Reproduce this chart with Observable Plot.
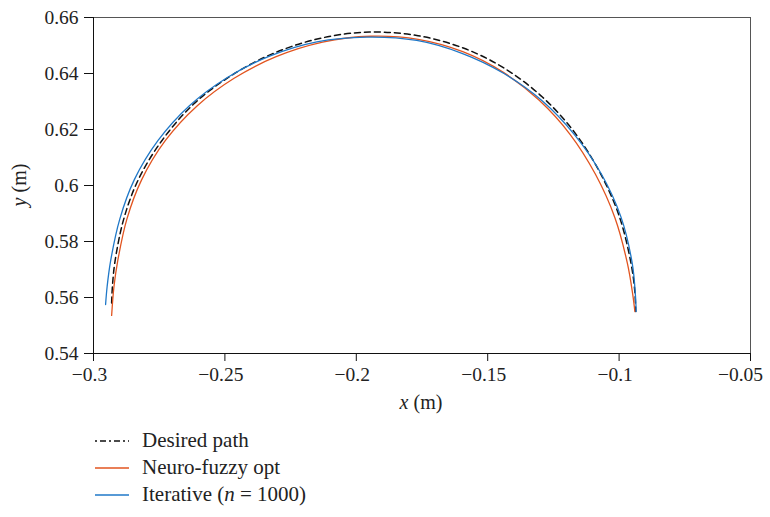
<!DOCTYPE html>
<html><head><meta charset="utf-8">
<script src="https://cdn.jsdelivr.net/npm/d3@7"></script>
<script src="https://cdn.jsdelivr.net/npm/@observablehq/plot@0.6"></script>
<style>
body{margin:0;background:#fff;font-family:"Liberation Serif",serif;}
#wrap{position:relative;width:770px;height:517px;overflow:hidden}
#legend{position:absolute;left:95px;top:427px;font-size:21px;color:#222}
.row{display:flex;align-items:center;height:27px}
.row svg{margin-right:13px}
</style></head><body><div id="wrap"><div id="chart"></div><div id="legend"></div></div>
<script>
// Desired path (x, y in metres)
const desiredX = [-0.2931,-0.2928,-0.2918,-0.2885,-0.2830,-0.2740,-0.2620,-0.2480,-0.2320,-0.2140,-0.1950,-0.1765,-0.1590,-0.1432,-0.1292,-0.1172,-0.1075,-0.1000,-0.0955,-0.0940,-0.0937];
const desiredY = [0.5580,0.5640,0.5730,0.5880,0.6020,0.6160,0.6290,0.6390,0.6470,0.6525,0.6548,0.6535,0.6490,0.6416,0.6316,0.6193,0.6050,0.5892,0.5724,0.5620,0.5550];
// Neuro-fuzzy opt
const fuzzyX = [-0.2931,-0.2922,-0.2908,-0.2873,-0.2817,-0.2727,-0.2605,-0.2465,-0.2305,-0.2128,-0.1945,-0.1765,-0.1595,-0.1442,-0.1305,-0.1186,-0.1090,-0.1016,-0.0968,-0.0948,-0.0940];
const fuzzyY = [0.5536,0.5640,0.5730,0.5880,0.6020,0.6160,0.6285,0.6383,0.6460,0.6512,0.6533,0.6522,0.6478,0.6405,0.6305,0.6182,0.6040,0.5885,0.5720,0.5610,0.5550];
// Iterative (n = 1000)
const iterX = [-0.2954,-0.2948,-0.2935,-0.2900,-0.2845,-0.2755,-0.2635,-0.2492,-0.2330,-0.2150,-0.1960,-0.1770,-0.1598,-0.1438,-0.1293,-0.1170,-0.1068,-0.0993,-0.0950,-0.0938,-0.0935];
const iterY = [0.5575,0.5640,0.5730,0.5880,0.6020,0.6160,0.6285,0.6385,0.6462,0.6513,0.6530,0.6518,0.6472,0.6400,0.6303,0.6182,0.6042,0.5888,0.5722,0.5610,0.5550];

const xTicks = [-0.3,-0.25,-0.2,-0.15,-0.1,-0.05];
const yTicks = [0.54,0.56,0.58,0.6,0.62,0.64,0.66];
const seriesNames = ["Desired path","Neuro-fuzzy opt","Iterative (n = 1000)"];
const colors = ["#111111","#e2541f","#1f78c8"];

const toRows = (xs, ys) => xs.map((x, i) => ({x, y: ys[i]}));
const desired = toRows(desiredX, desiredY);
const fuzzy = toRows(fuzzyX, fuzzyY);
const iter = toRows(iterX, iterY);
const fmt = d => (d < 0 ? "\u2212" : "") + Math.abs(d);

const chart = Plot.plot({
  width: 770, height: 420,
  marginTop: 17, marginBottom: 67, marginLeft: 93, marginRight: 20,
  style: {fontFamily: "'Liberation Serif', serif", fontSize: "20px", color: "#222", background: "white"},
  x: {domain: [-0.3, -0.05]},
  y: {domain: [0.54, 0.66]},
  marks: [
    Plot.frame({stroke: "#555"}),
    Plot.axisX({ticks: xTicks, tickFormat: fmt, label: null, tickSize: 8, tickPadding: 6, fontSize: 19.5, stroke: "#111"}),
    Plot.axisY({ticks: yTicks, tickFormat: fmt, label: null, tickSize: 9, tickPadding: 6, fontSize: 19.5, stroke: "#111"}),
    Plot.ruleX([-0.3], {stroke: "#111"}),
    Plot.ruleY([0.54], {stroke: "#111"}),
    Plot.line(desired, {x: "x", y: "y", stroke: colors[0], strokeWidth: 1.5, strokeDasharray: "6,4", curve: "catmull-rom"}),
    Plot.line(fuzzy, {x: "x", y: "y", stroke: colors[1], strokeWidth: 1.3, curve: "catmull-rom"}),
    Plot.line(iter, {x: "x", y: "y", stroke: colors[2], strokeWidth: 1.3, curve: "catmull-rom"})
  ]
});
document.getElementById("chart").appendChild(chart);

const svg = d3.select(chart);
// keep the right-most x tick label inside the picture, as in the reference
const xLabels = svg.selectAll('[aria-label="x-axis tick label"] text').nodes();
if (xLabels.length) {
  d3.selectAll(xLabels).attr("dx", -4);
  d3.select(xLabels[xLabels.length - 1]).attr("dx", -10);
}
const xl = svg.append("text").attr("x", 421).attr("y", 409).attr("text-anchor", "middle")
  .attr("font-size", 20).attr("fill", "#222");
xl.append("tspan").attr("font-style", "italic").text("x");
xl.append("tspan").text(" (m)");
const yl = svg.append("text").attr("transform", "translate(26,185) rotate(-90)").attr("text-anchor", "middle")
  .attr("font-size", 20).attr("fill", "#222");
yl.append("tspan").attr("font-style", "italic").text("y");
yl.append("tspan").text(" (m)");

const legend = d3.select("#legend");
const dashes = ["2,3,6,3", null, null];
seriesNames.forEach((name, i) => {
  const row = legend.append("div").attr("class", "row");
  const s = row.append("svg").attr("width", 34).attr("height", 10);
  s.append("line").attr("x1", 0).attr("x2", 34).attr("y1", 5).attr("y2", 5)
    .attr("stroke", colors[i]).attr("stroke-width", i === 0 ? 1.3 : 1.5)
    .attr("stroke-dasharray", dashes[i]);
  const t = row.append("span");
  if (name.includes("(n")) {
    t.append("span").text("Iterative (");
    t.append("i").text("n");
    t.append("span").text(" = 1000)");
  } else t.text(name);
});
</script>
</body></html>
